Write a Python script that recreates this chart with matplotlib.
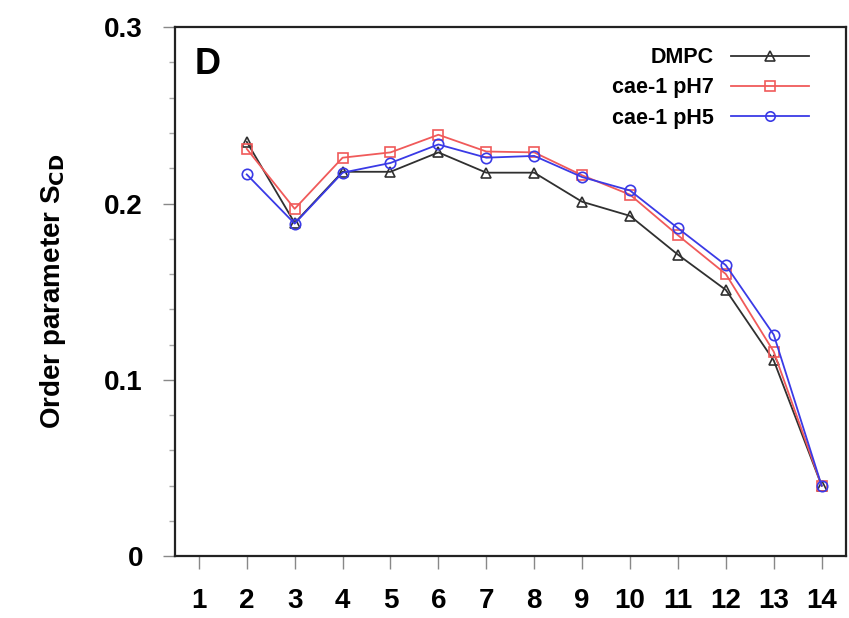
import numpy as np
import matplotlib.pyplot as plt
from matplotlib.ticker import MultipleLocator

plt.rcParams['font.family'] = ['Liberation Sans', 'DejaVu Sans']
plt.rcParams['font.weight'] = 'bold'

carbon = [2, 3, 4, 5, 6, 7, 8, 9, 10, 11, 12, 13, 14]
dmpc = [0.235, 0.189, 0.218, 0.218, 0.229, 0.2175, 0.2175, 0.201, 0.193, 0.171, 0.151, 0.111, 0.040]
ph7 = [0.231, 0.197, 0.226, 0.229, 0.239, 0.2295, 0.229, 0.216, 0.205, 0.182, 0.160, 0.116, 0.040]
ph5 = [0.2165, 0.1886, 0.2175, 0.223, 0.2335, 0.226, 0.227, 0.215, 0.2074, 0.186, 0.165, 0.1256, 0.040]
xticks = list(range(1, 15))

fig = plt.figure(figsize=(8.49, 6.18), dpi=100)
ax = fig.add_axes([0.206, 0.100, 0.790, 0.856])

ax.plot(carbon, dmpc, color='#303030', lw=1.3, marker='^', ms=7.5, mfc='none', mew=1.2, label='DMPC')
ax.plot(carbon, ph7, color='#f05a5a', lw=1.3, marker='s', ms=7.5, mfc='none', mew=1.2, label='cae-1 pH7')
ax.plot(carbon, ph5, color='#3a3ae6', lw=1.3, marker='o', ms=7.5, mfc='none', mew=1.2, label='cae-1 pH5')

ax.set_xlim(0.5, 14.5)
ax.set_ylim(0, 0.3)
ax.set_xticks(xticks)
ax.set_yticks([0, 0.1, 0.2, 0.3])
ax.set_yticklabels(['0', '0.1', '0.2', '0.3'])
ax.yaxis.set_minor_locator(MultipleLocator(0.02))
ax.tick_params(axis='x', which='major', direction='out', length=9, width=1.0,
               labelsize=20, color='#888888', pad=14)
ax.tick_params(axis='y', which='major', direction='out', length=9, width=1.0,
               labelsize=20, color='#888888', pad=14)
ax.tick_params(axis='y', which='minor', direction='out', length=4, width=1.0, color='#aaaaaa')
for lab in ax.get_xticklabels() + ax.get_yticklabels():
    lab.set_fontweight('bold')
for sp in ax.spines.values():
    sp.set_linewidth(1.6)
    sp.set_color('#222222')

ax.set_ylabel('Order parameter S$_{\\mathbf{CD}}$', fontsize=20, fontweight='bold', labelpad=26)
ax.text(0.03, 0.93, 'D', transform=ax.transAxes, fontsize=26, fontweight='bold', va='center')

leg = ax.legend(loc='upper right', bbox_to_anchor=(0.958, 0.978), frameon=False, markerfirst=False,
                fontsize=15.5, handlelength=3.6, labelspacing=0.42, borderaxespad=0.0,
                handletextpad=0.8, markerscale=0.9)
for t in leg.get_texts():
    t.set_fontweight('bold')
    t.set_ha('right')

fig.savefig('out.png', dpi=100)
